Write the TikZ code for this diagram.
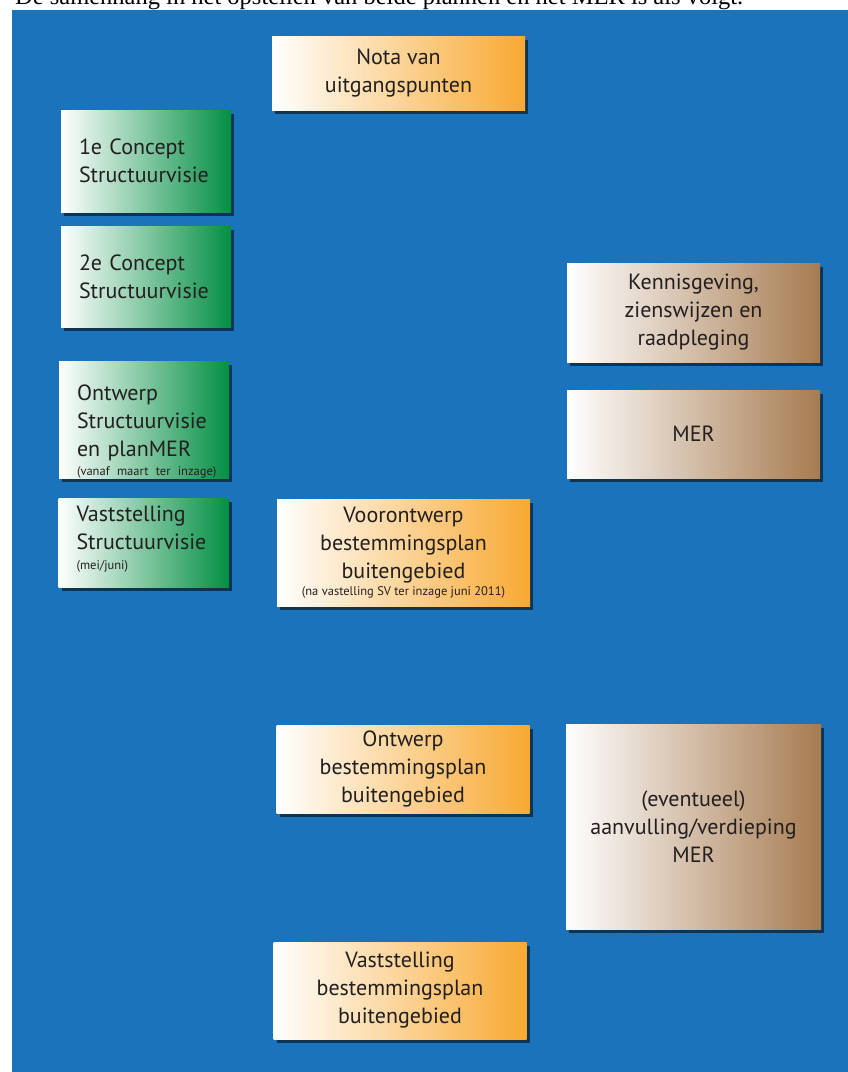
\documentclass[tikz,border=0pt]{standalone}
\usepackage{fontspec}
\setmainfont{Liberation Serif}
\newfontfamily\boxfont{PT Sans}
\usetikzlibrary{shadows}

\definecolor{panelblue}{RGB}{27,116,187}
\definecolor{planorange}{RGB}{248,169,50}
\definecolor{svgreen}{RGB}{4,143,68}
\definecolor{merbrown}{RGB}{166,123,80}
\definecolor{boxtext}{RGB}{35,31,32}

\newcommand{\klein}[1]{\mbox{\fontsize{12.5}{14}\selectfont #1}}

\tikzset{
    stap/.style={rectangle, inner sep=0pt, text=boxtext,
        font=\boxfont\fontsize{22}{28}\selectfont,
        drop shadow={shadow xshift=3pt, shadow yshift=-3.5pt, opacity=0.55, fill=black}},
    plan/.style={stap, left color=white, right color=planorange, align=center, minimum width=253pt},
    sv/.style={stap, left color=white, right color=svgreen, text width=134pt, inner xsep=18pt, align=left},
    mer/.style={stap, left color=white, right color=merbrown, align=center, minimum width=253pt}
}

\begin{document}
\begin{tikzpicture}[x=1pt,y=-1pt]
        \useasboundingbox (0,0) rectangle (848,1072);
        \fill[white] (0,0) rectangle (848,1072);

        \node[anchor=base west, inner sep=0pt, font=\fontsize{24.5}{28}\selectfont] (kop) at (15,4)
            {De samenhang in het opstellen van beide plannen en het MER is als volgt.};

        \fill[panelblue] (12,9.5) rectangle (848,1072);

        \node[plan, minimum height=74pt] (nota) at (398.5,73) {Nota van\\uitgangspunten};

        \node[sv, minimum height=102pt] (concept1) at (146,161) {1e Concept\\Structuurvisie};
        \node[sv, minimum height=101pt] (concept2) at (146,276.5) {2e Concept\\Structuurvisie};
        \node[sv, minimum height=114pt] (ontwerpsv) at (144,420)
            {\rule{0pt}{39pt}Ontwerp\\Structuurvisie\\en planMER\\[-9pt]\klein{(vanaf maart ter inzage)}};
        \node[sv, minimum height=89pt] (vaststellingsv) at (143.5,542.5)
            {Vaststelling\\Structuurvisie\\[-8pt]\klein{(mei/juni)\rule[-9pt]{0pt}{0pt}}};

        \node[plan, minimum height=107pt] (voorontwerp) at (403.5,552.5)
            {Voorontwerp\\bestemmingsplan\\buitengebied\\[-11pt]\klein{(na vastelling SV ter inzage juni 2011)}};
        \node[plan, minimum height=88pt] (ontwerpbp) at (403,769)
            {Ontwerp\\bestemmingsplan\\buitengebied};
        \node[plan, minimum height=97pt] (vaststellingbp) at (400,990.5)
            {Vaststelling\\bestemmingsplan\\buitengebied};

        \node[mer, minimum height=99pt] (kennisgeving) at (693.5,312.5)
            {Kennisgeving,\\zienswijzen en\\raadpleging};
        \node[mer, minimum height=88pt] (mer) at (693.5,434) {MER};
        \node[mer, minimum width=255pt, minimum height=205pt] (aanvulling) at (693.5,826.5)
            {(eventueel)\\aanvulling/verdieping\\MER};

    \end{tikzpicture}
\end{document}
